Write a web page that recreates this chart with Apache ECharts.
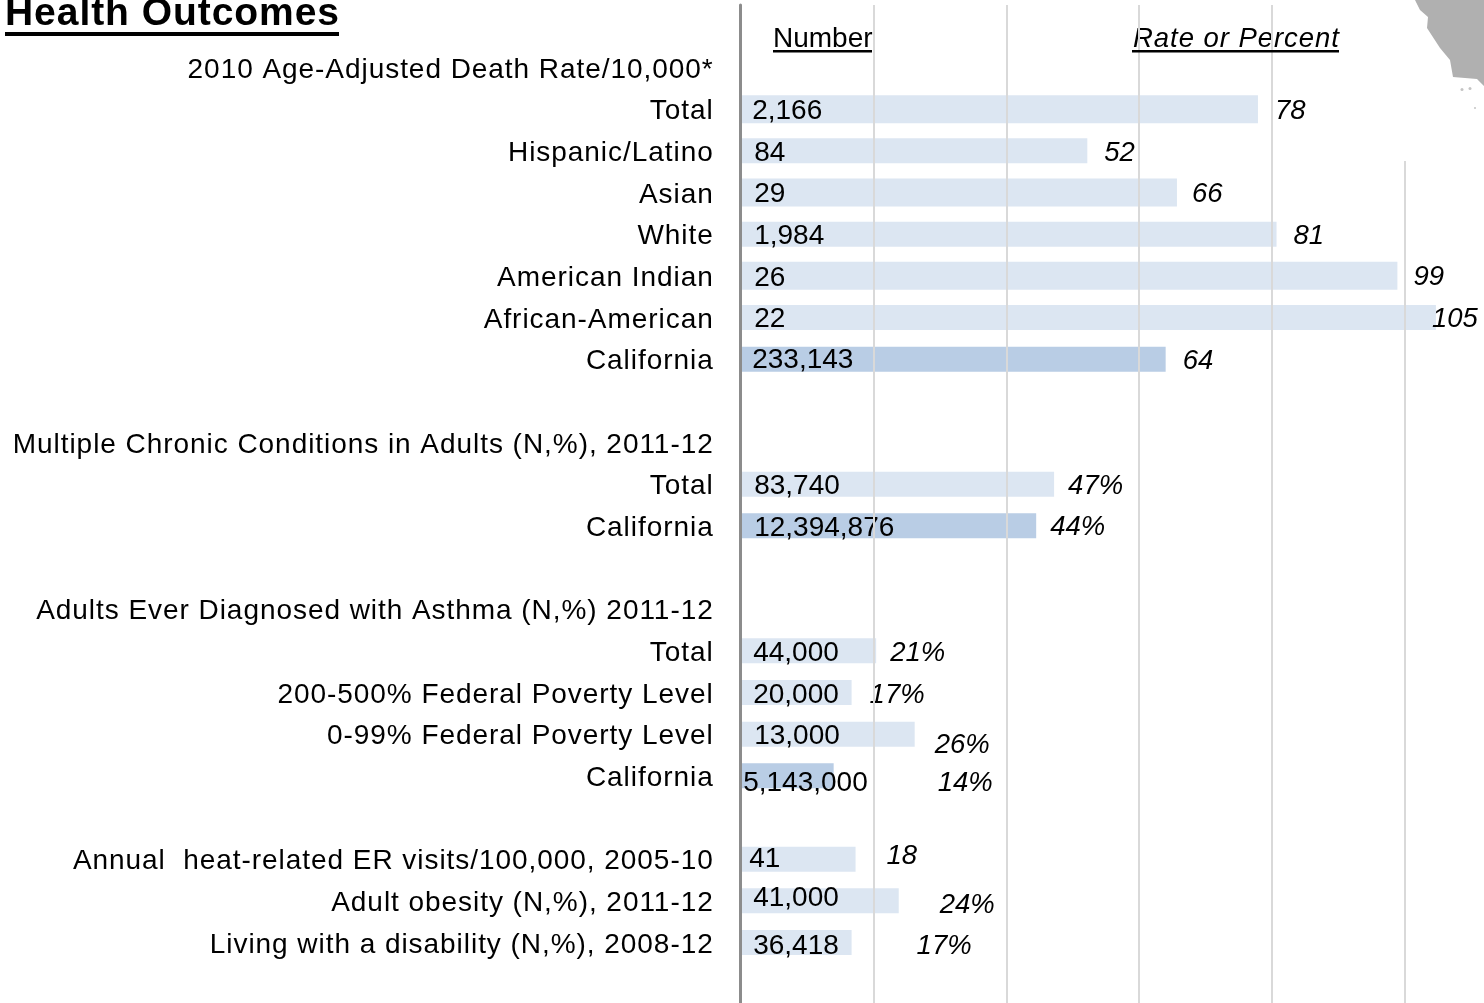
<!DOCTYPE html>
<html>
<head>
<meta charset="utf-8">
<style>html,body{margin:0;padding:0;background:#fff}#main{width:1484px;height:1003px}</style>
<script src="https://cdn.jsdelivr.net/npm/echarts@6/dist/echarts.min.js"></script>
</head>
<body>
<div id="main"></div>
<script>
// rows top to bottom, '' = spacer row
const categories = ['', '2010 Age-Adjusted Death Rate/10,000*', 'Total', 'Hispanic/Latino', 'Asian', 'White', 'American Indian', 'African-American', 'California', '',
  'Multiple Chronic Conditions in Adults (N,%), 2011-12', 'Total', 'California', '',
  'Adults Ever Diagnosed with Asthma (N,%) 2011-12', 'Total', '200-500% Federal Poverty Level', '0-99% Federal Poverty Level', 'California', '',
  'Annual  heat-related ER visits/100,000, 2005-10', 'Adult obesity (N,%), 2011-12', 'Living with a disability (N,%), 2008-12', '']
const numbers = [null, null, 2166, 84, 29, 1984, 26, 22, 233143, null, null, 83740, 12394876, null, null, 44000, 20000, 13000, 5143000, null, 41, 41000, 36418, null]
const rates = [null, null, 77.9, 52.2, 65.7, 80.7, 98.9, 104.7, 64, null, null, 47.2, 44.5, null, null, 20.4, 16.7, 26.2, 14, null, 17.3, 23.8, 16.7, null]
const rateLabels = ['', '', '78', '52', '66', '81', '99', '105', '64', '', '', '47%', '44%', '', '', '21%', '17%', '26%', '14%', '', '18', '24%', '17%', '']
const stateRows = [8, 12, 18] // darker bars
const tallRows = [2, 4, 6]    // these few bars are drawn a bit thicker

// hand placed labels in the original, [dx, dy] per row
const numberShift = { 2: [11, 2], 3: [13, 2], 4: [13, 2], 5: [13, 2], 6: [13, 2], 7: [13, 2], 8: [11, 1], 11: [13, 2], 12: [13, 2], 15: [12, 2], 16: [12, 3], 17: [13, 2], 18: [2, 7], 20: [8, 0], 21: [12, -3], 22: [12, 4] }
const rateShift = { 2: [17, 2], 3: [17, 3], 4: [15, 2], 5: [17, 2], 6: [16, 2], 7: [-4, 2], 8: [17, 2], 11: [14, 2], 12: [14, 2], 15: [14, 3], 16: [18, 3], 17: [20, 11], 18: [104, 8], 20: [31, -3], 21: [41, 5], 22: [65, 4] }

const FONT = 'Liberation Sans'
const LABEL_SIZE = 28

const fmt = n => n.toLocaleString('en-US')
const barColor = i => stateRows.includes(i) ? '#b9cde5' : '#dce6f2'

const rateData = rows => rates.map((v, i) => {
  if (v === null || !rows.includes(i)) return null
  return {
    value: v,
    itemStyle: { color: barColor(i) },
    label: { formatter: rateLabels[i], offset: rateShift[i] }
  }
})
const plainRows = rates.map((v, i) => i).filter(i => !tallRows.includes(i))

const rateLabel = {
  show: true, position: 'right', distance: 0,
  fontFamily: FONT, fontSize: 27.5, fontStyle: 'italic', color: '#000'
}
const catAxis = {
  type: 'category', inverse: true, data: categories,
  axisTick: { show: false }
}

const chart = echarts.init(document.getElementById('main'), null, { renderer: 'canvas' })

// the row labels are letter spaced in the original, zlevel 1 gets its own canvas so set it there
chart.getZr().painter.getLayer(1).ctx.letterSpacing = '0.95px'

// graphic ignores a component level zlevel, it has to sit on each element
const overlay = el => ({ ...el, zlevel: 3 })

chart.setOption({
  animation: false,
  backgroundColor: '#fff',
  title: [
    { text: 'Health Outcomes', left: 5, top: -5, padding: 0, zlevel: 1, textStyle: { fontFamily: FONT, fontSize: 39, fontWeight: 'bold', color: '#000' } },
    { text: 'Number', left: 773, top: 25, padding: 0, z: 1, textStyle: { fontFamily: FONT, fontSize: LABEL_SIZE, fontWeight: 'normal', color: '#000' } },
    { text: 'Rate or Percent', left: 1133, top: 26, padding: 0, zlevel: 1, textStyle: { fontFamily: FONT, fontSize: 27.5, fontWeight: 'normal', fontStyle: 'italic', color: '#000' } }
  ],
  grid: { left: 740.7, top: 5, width: 796.8, height: 1000, outerBoundsMode: 'none' },
  xAxis: {
    type: 'value', min: 0, max: 120, interval: 20, zlevel: 2,
    axisLine: { show: false }, axisTick: { show: false }, axisLabel: { show: false },
    splitLine: { show: true, showMinLine: false, lineStyle: { color: '#d9d9d9', width: 2 } }
  },
  yAxis: [
    {
      ...catAxis, zlevel: 1,
      axisLine: { show: true, lineStyle: { color: '#8c8c8c', width: 3 } },
      // top aligned with a tiny line height, puts the text 2-3px under the row centre
      axisLabel: { interval: 0, margin: 27, verticalAlign: 'top', lineHeight: 5, fontFamily: FONT, fontSize: LABEL_SIZE, color: '#000' }
    },
    { ...catAxis, show: false }
  ],
  series: [
    { name: 'Rate', type: 'bar', yAxisIndex: 0, z: 2, barWidth: 25, label: rateLabel, data: rateData(plainRows) },
    { name: 'Rate (tall)', type: 'bar', yAxisIndex: 1, z: 2, barWidth: 28, label: rateLabel, data: rateData(tallRows) },
    {
      name: 'Number', type: 'scatter', yAxisIndex: 0, z: 3, symbolSize: 1,
      itemStyle: { color: 'transparent', opacity: 1 },
      data: numbers.map((n, i) => n === null ? null : {
        value: [0, i],
        label: { formatter: fmt(n), offset: numberShift[i] }
      }).filter(Boolean),
      label: { show: true, position: 'right', distance: 0, fontFamily: FONT, fontSize: LABEL_SIZE, color: '#000' }
    }
  ],
  graphic: {
    elements: [
      // underlines
      { type: 'rect', shape: { x: 5, y: 32, width: 334, height: 4 }, style: { fill: '#000' } },
      { type: 'rect', shape: { x: 773, y: 50, width: 99, height: 2.5 }, style: { fill: '#000' } },
      { type: 'rect', shape: { x: 1132, y: 50, width: 207, height: 2.5 }, style: { fill: '#000' } },
      // map corner, its image background hides the last gridline
      { type: 'rect', shape: { x: 1380, y: 0, width: 104, height: 161 }, style: { fill: '#fff' } },
      {
        type: 'polygon',
        shape: { points: [[1415, 0], [1420, 10], [1428, 17], [1427, 28], [1440, 48], [1450, 60], [1453, 77], [1477, 79], [1484, 86], [1484, 0]] },
        style: { fill: '#b0b0b0' }
      },
      { type: 'circle', shape: { cx: 1462, cy: 89.5, r: 1.5 }, style: { fill: '#c4c4c4' } },
      { type: 'circle', shape: { cx: 1470, cy: 88.5, r: 1.5 }, style: { fill: '#c4c4c4' } },
      { type: 'circle', shape: { cx: 1475, cy: 108, r: 1 }, style: { fill: '#c4c4c4' } }
    ].map(overlay)
  }
})
</script>
</body>
</html>
